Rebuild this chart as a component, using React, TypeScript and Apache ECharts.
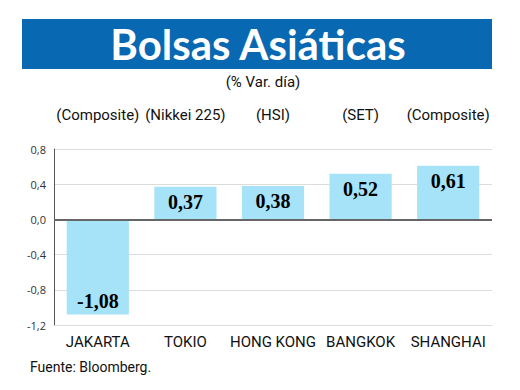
import React, { useEffect, useRef } from "react";
import * as echarts from "echarts";

const cities = ["JAKARTA", "TOKIO", "HONG KONG", "BANGKOK", "SHANGHAI"];
const indices = ["(Composite)", "(Nikkei 225)", "(HSI)", "(SET)", "(Composite)"];
const changes = [-1.08, 0.37, 0.38, 0.52, 0.61];
const yTicks = { min: -1.2, max: 0.8, interval: 0.4 };

const fmt = (v: number, d: number) => v.toFixed(d).replace(".", ",");
const narrow = "Roboto, 'Liberation Sans Narrow', sans-serif";

export default function App() {
  const ref = useRef<HTMLDivElement>(null);
  useEffect(() => {
    const chart = echarts.init(ref.current!, null, { renderer: "svg" });
    chart.setOption({
      animation: false,
      backgroundColor: "#ffffff",
      grid: { left: 54, right: 28, top: 149, bottom: 65 },
      graphic: [
        { type: "rect", left: 22, top: 19, shape: { width: 470, height: 50 }, style: { fill: "#0868b2" } },
        {
          type: "text", x: 258, y: 44,
          style: { text: "Bolsas Asiáticas", fill: "#ffffff", font: "bold 42px Lato, 'Open Sans', sans-serif", align: "center", verticalAlign: "middle" },
        },
        {
          type: "text", x: 263, y: 82,
          style: { text: "(% Var. día)", fill: "#111", font: "15px " + narrow, align: "center", verticalAlign: "middle" },
        },
        {
          type: "text", x: 30, y: 367,
          style: { text: "Fuente: Bloomberg.", fill: "#111", font: "14px " + narrow, align: "left", verticalAlign: "middle" },
        },
      ],
      xAxis: [
        {
          type: "category", data: cities, position: "bottom",
          axisLine: { onZero: false, lineStyle: { color: "#ddd" } },
          axisTick: { show: false },
          axisLabel: { interval: 0, color: "#111", fontSize: 15, fontFamily: narrow, margin: 9 },
        },
        {
          type: "category", data: indices, position: "top",
          axisLine: { show: false }, axisTick: { show: false },
          axisLabel: { interval: 0, color: "#111", fontSize: 15, fontFamily: narrow, margin: 27 },
        },
      ],
      yAxis: {
        type: "value", min: yTicks.min, max: yTicks.max, interval: yTicks.interval,
        axisLine: { show: true, lineStyle: { color: "#555" } },
        axisTick: { show: false },
        axisLabel: { color: "#333", fontSize: 11, fontFamily: "'Open Sans', sans-serif", margin: 8, formatter: (v: number) => fmt(v, 1) },
        splitLine: { lineStyle: { color: "#dcdcdc", width: 1 } },
      },
      series: [
        {
          type: "bar", data: changes.map((v) => ({
            value: v,
            label: { position: v < 0 ? "insideBottom" : "insideTop", distance: v < 0 ? 3 : 5 },
          })),
          barWidth: "71%",
          itemStyle: { color: "#a6e3f8" },
          label: {
            show: true, color: "#000", fontSize: 20, fontWeight: "bold",
            fontFamily: "'Liberation Serif', 'DejaVu Serif', serif",
            formatter: (p: any) => fmt(p.value, 2),
          },
          markLine: {
            silent: true, symbol: "none", label: { show: false },
            lineStyle: { color: "#666", width: 2, type: "solid" },
            data: [{ yAxis: 0 }],
          },
        },
      ],
    });
    return () => chart.dispose();
  }, []);
  return <div ref={ref} style={{ width: 520, height: 390, margin: -8 }} />;
}
